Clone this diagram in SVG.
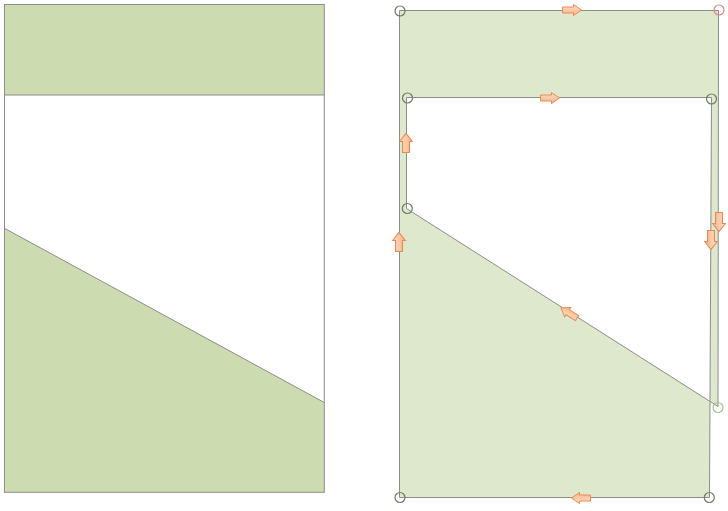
<svg xmlns="http://www.w3.org/2000/svg" width="728" height="511" viewBox="0 0 728 511">
<style>
.edge{fill:none;stroke:#8c8c8c;stroke-width:1}
.lfill{fill:#cddcb0;stroke:none}
.rfill{fill:#dee8cc;stroke:none;fill-rule:evenodd}
.pt{fill:none;stroke:#6d7c60;stroke-width:1.2}
.pt-red{fill:none;stroke:#d98890;stroke-width:1.2}
.pt-light{fill:none;stroke:#a9c58a;stroke-width:1.2}
.arr{fill:url(#ag);stroke:#ec8a4f;stroke-width:1}
</style>
<defs>
<linearGradient id="ag" x1="0" y1="0" x2="0" y2="1">
<stop offset="0" stop-color="#fde1cb"/>
<stop offset="1" stop-color="#f5b487"/>
</linearGradient>
<path id="arrow" d="M-9.5,-3 H1.5 V-5.5 L9.5,0 L1.5,5.5 V3 H-9.5 Z"/>
</defs>
<rect width="728" height="511" fill="#ffffff"/>

<g id="left-figure">
<rect class="lfill" x="4.5" y="4.5" width="319.8" height="90.5"/>
<polygon class="lfill" points="4.5,228.3 324.3,402.5 324.3,492.3 4.5,492.3"/>
<rect class="edge" x="4.5" y="4.5" width="319.8" height="487.8"/>
<line class="edge" x1="4.5" y1="95" x2="324.3" y2="95"/>
<line class="edge" x1="4.5" y1="228.3" x2="324.3" y2="402.5"/>
</g>

<g id="right-figure">
<path class="rfill" d="M399.5,10.5 L718.5,10.5 L718,406.5 L406.5,208.5 L406.5,97.5 L711.5,97.5 L709.5,497.5 L399.5,497.5 Z"/>
<path class="edge" d="M399.5,10.5 L718.5,10.5 L718,406.5 L406.5,208.5 L406.5,97.5 L711.5,97.5 L709.5,497.5 L399.5,497.5 Z"/>
</g>

<g id="connectors">
<use href="#arrow" class="arr" transform="translate(572,10)"/>
<use href="#arrow" class="arr" transform="translate(550,98)"/>
<use href="#arrow" class="arr" transform="translate(406,143) rotate(-90) scale(1,1.15)"/>
<use href="#arrow" class="arr" transform="translate(399,242) rotate(-90) scale(1,1.15)"/>
<use href="#arrow" class="arr" transform="translate(719,222) rotate(90) scale(1,1.15)"/>
<use href="#arrow" class="arr" transform="translate(711,240) rotate(90) scale(1,1.15)"/>
<use href="#arrow" class="arr" transform="translate(569,313) rotate(212.3)"/>
<use href="#arrow" class="arr" transform="translate(581,498) rotate(180)"/>
</g>

<g id="vertices">
<circle class="pt" cx="400" cy="11" r="5"/>
<circle class="pt-red" cx="719" cy="10" r="5"/>
<circle class="pt" cx="407.5" cy="98" r="5"/>
<circle class="pt" cx="711.5" cy="99" r="5"/>
<circle class="pt" cx="407.3" cy="208.5" r="5"/>
<circle class="pt-light" cx="718" cy="407.5" r="5"/>
<circle class="pt" cx="400" cy="497.5" r="5"/>
<circle class="pt" cx="709.3" cy="497.5" r="5"/>
</g>
</svg>
